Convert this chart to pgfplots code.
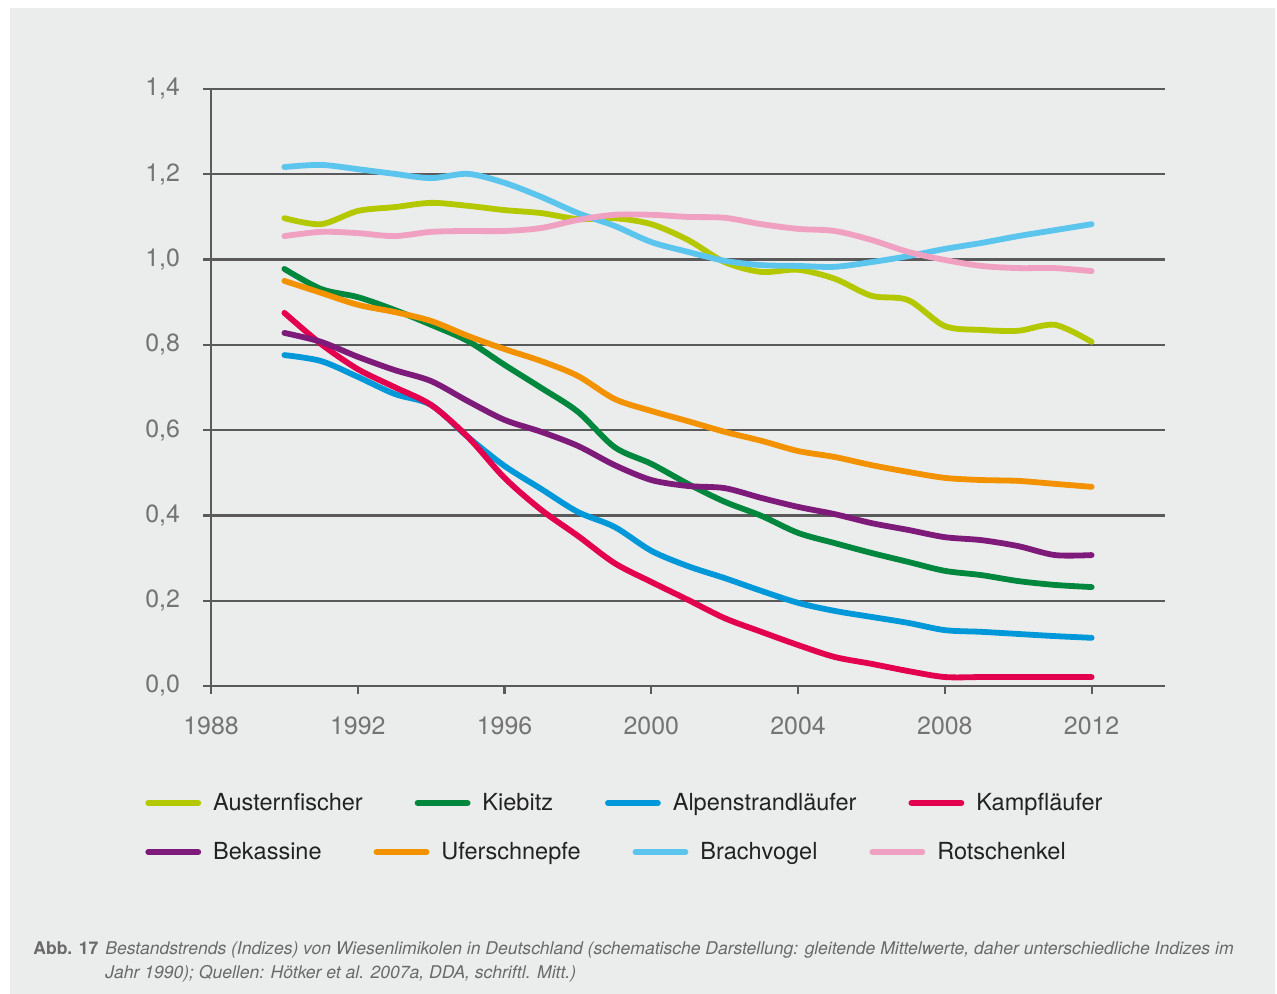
\documentclass[border=0pt]{standalone}
\usepackage{pgfplots}
\usepackage{pgfplotstable}
\pgfplotsset{compat=1.18}
\usepackage{fontspec}
\setmainfont{TeX Gyre Heros}

\definecolor{panel}{HTML}{EBECEC}
\definecolor{gridc}{HTML}{5A5A5A}
\definecolor{tickc}{HTML}{747474}
\definecolor{legc}{HTML}{222222}
\definecolor{capc}{HTML}{6A6A6A}
\definecolor{austern}{HTML}{B4C800}
\definecolor{kiebitz}{HTML}{00873E}
\definecolor{alpen}{HTML}{0098D8}
\definecolor{kampf}{HTML}{E2004F}
\definecolor{bekass}{HTML}{7E1A7A}
\definecolor{ufer}{HTML}{F39200}
\definecolor{brach}{HTML}{5BC5EE}
\definecolor{rot}{HTML}{F0A0C0}

% Indizes, gleitende Mittelwerte
\pgfplotstableread{
year aust kieb alpen kampf bekass ufer brach rot
1990 1.097 0.978 0.776 0.875 0.828 0.950 1.217 1.055
1991 1.083 0.931 0.762 0.802 0.807 0.922 1.222 1.065
1992 1.114 0.912 0.725 0.743 0.772 0.894 1.212 1.062
1993 1.123 0.882 0.685 0.701 0.741 0.877 1.201 1.055
1994 1.133 0.847 0.659 0.659 0.715 0.856 1.191 1.065
1995 1.126 0.809 0.584 0.584 0.668 0.821 1.201 1.067
1996 1.116 0.753 0.516 0.488 0.624 0.790 1.180 1.067
1997 1.109 0.699 0.462 0.413 0.596 0.762 1.147 1.074
1998 1.095 0.643 0.408 0.352 0.563 0.727 1.109 1.093
1999 1.097 0.560 0.373 0.288 0.518 0.673 1.079 1.105
2000 1.083 0.521 0.317 0.244 0.483 0.645 1.041 1.105
2001 1.046 0.474 0.281 0.202 0.469 0.621 1.018 1.100
2002 0.994 0.432 0.253 0.159 0.464 0.596 0.997 1.098
2003 0.971 0.399 0.223 0.127 0.441 0.575 0.987 1.083
2004 0.976 0.359 0.195 0.096 0.420 0.551 0.985 1.072
2005 0.955 0.335 0.176 0.068 0.403 0.537 0.983 1.067
2006 0.915 0.312 0.162 0.052 0.382 0.518 0.994 1.046
2007 0.905 0.291 0.148 0.035 0.366 0.502 1.008 1.018
2008 0.844 0.270 0.131 0.021 0.349 0.488 1.025 0.999
2009 0.835 0.260 0.127 0.021 0.342 0.483 1.039 0.985
2010 0.833 0.246 0.122 0.021 0.328 0.481 1.055 0.980
2011 0.847 0.237 0.117 0.021 0.307 0.474 1.069 0.980
2012 0.807 0.232 0.113 0.021 0.307 0.467 1.083 0.973
}\datatable

\pgfplotsset{
  legend image code/.code={\draw[#1,line cap=round] (0bp,0bp) -- (25bp,0bp);},
  legstyle/.style={
    legend columns=4,
    legend cell align=left,
    legend style={draw=none, fill=none, inner sep=0pt, anchor=west,
      font=\fontsize{11.8}{14}\selectfont, text=legc,
      /tikz/every odd column/.append style={column sep=4bp},
      /tikz/every even column/.append style={column sep=24bp}},
  },
  serie/.style={line width=2.9bp, smooth, tension=0.5, no markers, line cap=round},
}

\begin{document}
\begin{tikzpicture}
\fill[white] (0,0) rectangle (638.5bp,497bp);
\fill[panel] (5bp,0) rectangle (637.5bp,493bp);

\begin{axis}[
  at={(105.5bp,154bp)}, anchor=origin,
  scale only axis, width=477bp, height=298.5bp,
  xmin=1988, xmax=2014, ymin=0, ymax=1.4,
  axis x line=bottom, axis y line=left,
  axis line style={-, gridc, line width=1.1bp},
  xtick={1988,1992,...,2012},
  ytick={0,0.2,...,1.4},
  tick align=outside,
  major tick length=4bp,
  tick style={gridc, line width=1.1bp},
  ymajorgrids, grid style={gridc, line width=1.1bp},
  /pgf/number format/assume math mode=true,
  xticklabel style={font=\fontsize{12.5}{14}\selectfont, text=tickc, /pgf/number format/1000 sep={}, yshift=-8bp},
  yticklabel style={font=\fontsize{12.5}{14}\selectfont, text=tickc, /pgf/number format/.cd, fixed, fixed zerofill, precision=1, use comma, /tikz/.cd, xshift=-8bp},
  legstyle,
  legend style={at={(-0.0692,-0.196)}},
]
\addplot[serie, austern] table[x=year, y=aust] {\datatable};
\addlegendentry{Austernfischer}
\addplot[serie, kiebitz] table[x=year, y=kieb] {\datatable};
\addlegendentry{Kiebitz}
\addplot[serie, alpen] table[x=year, y=alpen] {\datatable};
\addlegendentry{Alpenstrandläufer}
\addplot[serie, kampf] table[x=year, y=kampf] {\datatable};
\addlegendentry{Kampfläufer}
\addplot[serie, bekass, forget plot] table[x=year, y=bekass] {\datatable};
\addplot[serie, ufer, forget plot] table[x=year, y=ufer] {\datatable};
\addplot[serie, brach, forget plot] table[x=year, y=brach] {\datatable};
\addplot[serie, rot, forget plot] table[x=year, y=rot] {\datatable};
\end{axis}

\begin{axis}[
  at={(105.5bp,154bp)}, anchor=origin,
  scale only axis, width=477bp, height=298.5bp,
  xmin=0, xmax=1, ymin=0, ymax=1, hide axis,
  legstyle,
  legend style={at={(-0.0692,-0.278)}},
]
\addlegendimage{serie, bekass}
\addlegendentry{Bekassine}
\addlegendimage{serie, ufer}
\addlegendentry{Uferschnepfe}
\addlegendimage{serie, brach}
\addlegendentry{Brachvogel}
\addlegendimage{serie, rot}
\addlegendentry{Rotschenkel}
\end{axis}

\node[anchor=base west, text=capc, font=\fontsize{8.8}{10}\selectfont\bfseries, inner sep=0pt] at (16.5bp,20bp) {Abb. 17};
\node[anchor=base west, text=capc, font=\fontsize{8.8}{10}\selectfont\itshape, inner sep=0pt] at (52.5bp,20bp)
  {Bestandstrends (Indizes) von Wiesenlimikolen in Deutschland (schematische Darstellung: gleitende Mittelwerte, daher unterschiedliche Indizes im};
\node[anchor=base west, text=capc, font=\fontsize{8.8}{10}\selectfont\itshape, inner sep=0pt] at (52.5bp,8bp)
  {Jahr 1990); Quellen: Hötker et al. 2007a, DDA, schriftl. Mitt.)};
\end{tikzpicture}
\end{document}
